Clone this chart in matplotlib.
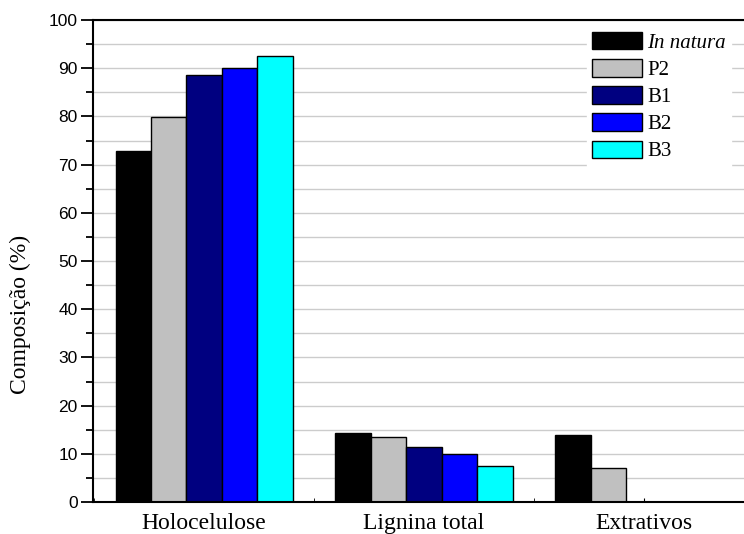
import matplotlib
matplotlib.use("Agg")
import matplotlib.pyplot as plt
import numpy as np
from matplotlib.ticker import MultipleLocator

categories = ["Holocelulose", "Lignina total", "Extrativos"]
series_names = ["In natura", "P2", "B1", "B2", "B3"]
in_natura = [72.8, 14.4, 13.9]
p2 = [79.8, 13.4, 7.0]
b1 = [88.5, 11.5, 0.0]
b2 = [90.0, 10.0, 0.0]
b3 = [92.5, 7.5, 0.0]
values = [in_natura, p2, b1, b2, b3]
colors = ["#000000", "#c0c0c0", "#000080", "#0000ff", "#00ffff"]


def main() -> None:
    fig = plt.figure(figsize=(7.44, 5.34), dpi=100, facecolor="white")
    ax = fig.add_axes([93 / 744, 32 / 534, 1 - 93 / 744, 482 / 534])

    x = np.arange(1, len(categories) + 1)
    width = 0.161
    handles = []
    for i, (vals, col) in enumerate(zip(values, colors)):
        pos = x + (i - 2) * width
        h = ax.bar(pos, vals, width=width, color=col, edgecolor="black",
                   linewidth=1.0, zorder=2)
        handles.append(h)

    ax.set_xlim(0.495, 3.455)
    ax.set_ylim(0, 100)
    ax.yaxis.set_major_locator(MultipleLocator(10))
    ax.yaxis.set_minor_locator(MultipleLocator(5))
    ax.set_axisbelow(True)
    ax.grid(True, axis="y", which="both", color="#cccccc", linewidth=1.0)

    ax.set_xticks(x)
    ax.set_xticklabels(categories, family="Liberation Serif", fontsize=17)
    ax.set_xticks([0.5, 1.5, 2.5], minor=True)
    ax.tick_params(axis="x", which="both", direction="in", length=3, pad=8)
    ax.tick_params(axis="y", which="major", direction="out", length=9,
                   width=1.3, labelsize=12.5, pad=2)
    ax.tick_params(axis="y", which="minor", direction="out", length=5, width=1.3)
    for lab in ax.get_yticklabels():
        lab.set_family("Liberation Sans")

    ax.spines["right"].set_visible(False)
    for s in ["left", "bottom", "top"]:
        ax.spines[s].set_linewidth(1.5)

    ax.set_ylabel("Composição (%)", family="Liberation Serif", fontsize=17)
    ax.yaxis.set_label_coords(-0.095, 0.39)

    leg = ax.legend(handles, series_names, loc="upper left",
                    bbox_to_anchor=(587 / 744, 1 - 27 / 534),
                    bbox_transform=fig.transFigure, frameon=True,
                    fancybox=False, edgecolor="white", facecolor="white",
                    framealpha=1.0, borderpad=0.25, borderaxespad=0,
                    handlelength=2.4, handleheight=0.9, handletextpad=0.25,
                    labelspacing=0.3, prop={"family": "Liberation Serif", "size": 15})
    leg.get_texts()[0].set_style("italic")

    fig.savefig("out.png", dpi=100, facecolor="white")
    plt.close(fig)


if __name__ == "__main__":
    main()
